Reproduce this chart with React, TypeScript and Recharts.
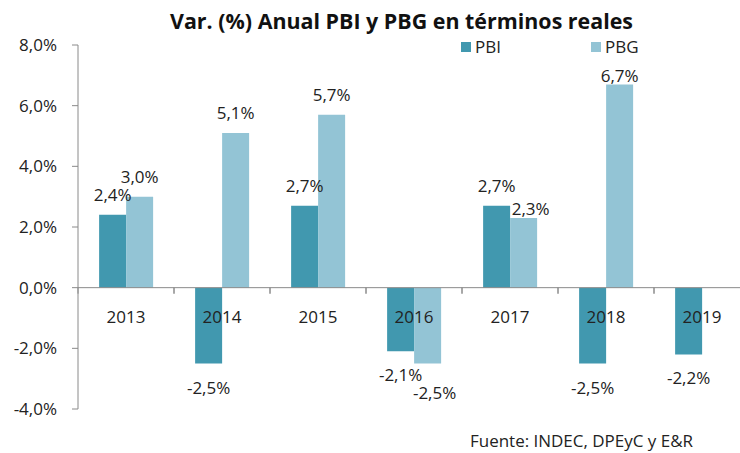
import { BarChart, Bar, XAxis, YAxis, ReferenceLine, LabelList, Legend } from 'recharts';

// chart values
const years = ['2013', '2014', '2015', '2016', '2017', '2018', '2019'];
const pbi = [2.4, -2.5, 2.7, -2.1, 2.7, -2.5, -2.2];
const pbg = [3.0, 5.1, 5.7, -2.5, 2.3, 6.7, null];
const seriesNames = ['PBI', 'PBG'];
const yTicks = [-4, -2, 0, 2, 4, 6, 8];

const data = years.map((year, i) => ({ year, PBI: pbi[i], PBG: pbg[i] }));

const FONT = "'Open Sans', 'Noto Sans', sans-serif";
const TEXT = '#222222';
const AXIS = '#8a8a8a';
const Y_MIN = -4;
const Y_MAX = 8;
const TOP = 45;
const BOTTOM = 43;
const X_AXIS_H = 1;
const HEIGHT = 453;
const PLOT_H = HEIGHT - TOP - BOTTOM - X_AXIS_H;
const PX_PER_UNIT = PLOT_H / (Y_MAX - Y_MIN);
const LABEL_MIN_BASELINE = 82; // labels stay below the legend

const fmt = (v: number) => v.toFixed(1).replace('.', ',') + '%';

// year labels sit on the zero line, small ticks between categories
const YearTick = (props: any) => {
  const { x, y, payload } = props;
  const axisTop = Number(y);
  const zeroY = axisTop - PX_PER_UNIT * (0 - Y_MIN);
  const half = payload?.offset || 48;
  return (
    <g>
      <line x1={x - half} x2={x - half} y1={zeroY} y2={zeroY + 6} stroke={AXIS} />
      <line x1={x + half} x2={x + half} y1={zeroY} y2={zeroY + 6} stroke={AXIS} />
      <text x={x} y={zeroY + 35} textAnchor="middle" fontSize={17} fill={TEXT} fontFamily={FONT}>
        {payload.value}
      </text>
    </g>
  );
};

// PBG labels get nudged when they would collide with the PBI label beside them
const makeLabel = (series: string) => (props: any) => {
  const { value, index } = props;
  if (value == null) return null;
  const vb = props.viewBox ?? props;
  const x = Number(vb.x);
  const y = Number(vb.y);
  const w = Number(vb.width);
  const h = Number(vb.height);
  const top = Math.min(y, y + h);
  const bottom = Math.max(y, y + h);
  let cx = x + w / 2;
  let ty = value >= 0 ? Math.max(top - 14, LABEL_MIN_BASELINE) : bottom + 30;
  if (series === 'PBG' && index != null) {
    const other = pbi[index];
    if (other != null && Math.sign(other) === Math.sign(value) && Math.abs(other - value) * PX_PER_UNIT < 16) {
      cx += 7;
      ty = value >= 0 ? top - 3 : bottom + 35;
    }
  }
  return (
    <text x={cx} y={ty} textAnchor="middle" fontSize={17} fill={TEXT} fontFamily={FONT}>
      {fmt(value)}
    </text>
  );
};

const renderLegend = (props: any) => {
  const items = [...(props.payload || [])].sort(
    (a: any, b: any) => seriesNames.indexOf(a.value) - seriesNames.indexOf(b.value)
  );
  return (
    <div style={{ display: 'flex', fontFamily: FONT, fontSize: 17, lineHeight: '17px', color: TEXT }}>
      {items.map((p: any) => (
        <div key={p.value} style={{ display: 'flex', alignItems: 'center', width: 140 }}>
          <span style={{ display: 'inline-block', width: 10, height: 10, background: p.color, marginRight: 4 }} />
          <span>{p.value}</span>
        </div>
      ))}
    </div>
  );
};

const App = () => {
  return (
    <div style={{ position: 'fixed', left: 0, top: 0, width: 740, height: 453, overflow: 'hidden', background: '#fff' }}>
      <BarChart
        width={760}
        height={HEIGHT}
        data={data}
        margin={{ top: TOP, right: 10, bottom: BOTTOM, left: 0 }}
        barCategoryGap="22%"
        barGap={0}
      >
        <YAxis
          domain={[Y_MIN, Y_MAX]}
          ticks={yTicks}
          tickFormatter={fmt}
          width={78}
          tickSize={6}
          tickMargin={15}
          axisLine={{ stroke: AXIS }}
          tickLine={{ stroke: AXIS }}
          tick={{ fontSize: 17, fill: TEXT, fontFamily: FONT }}
          interval={0}
        />
        <Bar dataKey="PBI" name="PBI" fill="#4198AF" isAnimationActive={false}>
          <LabelList dataKey="PBI" content={makeLabel('PBI')} />
        </Bar>
        <Bar dataKey="PBG" name="PBG" fill="#93C4D5" isAnimationActive={false}>
          <LabelList dataKey="PBG" content={makeLabel('PBG')} />
        </Bar>
        <ReferenceLine y={0} stroke={AXIS} />
        <XAxis
          dataKey="year"
          height={X_AXIS_H}
          axisLine={false}
          tickLine={false}
          tickSize={0}
          tickMargin={0}
          interval={0}
          tick={(p: any) => <YearTick {...p} />}
        />
        <Legend
          layout="horizontal"
          verticalAlign="middle"
          align="center"
          content={renderLegend}
          wrapperStyle={{ position: 'absolute', top: 38, left: 461, width: 260, height: 17 }}
        />
      </BarChart>
      <svg
        width={740}
        height={453}
        style={{ position: 'absolute', left: 0, top: 0, pointerEvents: 'none' }}
      >
        <text x={170} y={29} fontSize={21} fontWeight="bold" fill="#111" fontFamily={FONT} textLength={463} lengthAdjust="spacingAndGlyphs">
          Var. (%) Anual PBI y PBG en términos reales
        </text>
        <text x={470} y={447} fontSize={16} fill={TEXT} fontFamily={FONT} textLength={223} lengthAdjust="spacingAndGlyphs">
          Fuente: INDEC, DPEyC y E&amp;R
        </text>
      </svg>
    </div>
  );
};

export default App;
